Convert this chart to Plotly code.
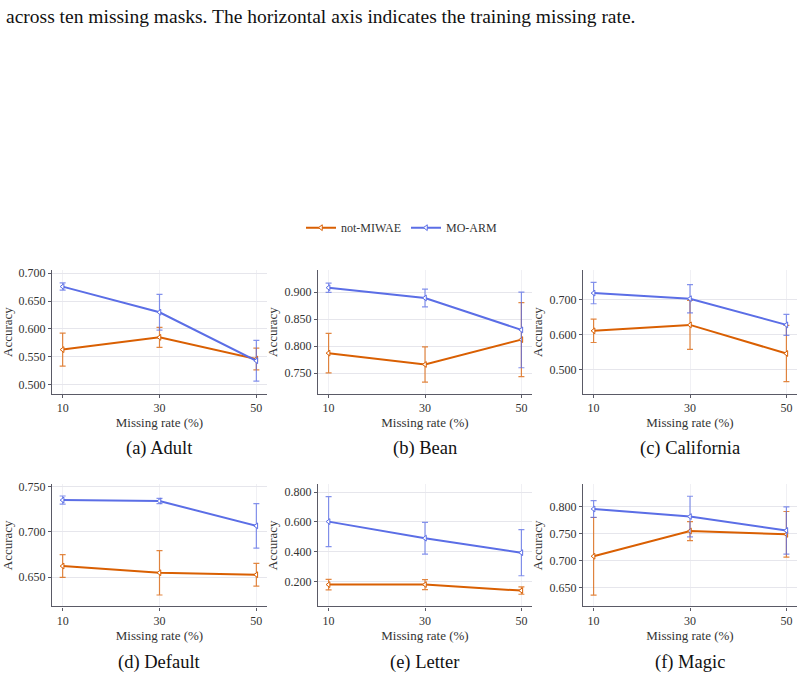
import plotly.graph_objects as go

rates = [10, 30, 50]
datasets = ["(a) Adult", "(b) Bean", "(c) California", "(d) Default", "(e) Letter", "(f) Magic"]

mo_arm = {
    "(a) Adult": [0.676, 0.630, 0.543],
    "(b) Bean": [0.908, 0.889, 0.830],
    "(c) California": [0.719, 0.703, 0.628],
    "(d) Default": [0.735, 0.734, 0.7066],
    "(e) Letter": [0.602, 0.491, 0.394],
    "(f) Magic": [0.7957, 0.7817, 0.756],
}
mo_arm_err = {
    "(a) Adult": [0.0065, 0.032, 0.0365],
    "(b) Bean": [0.0085, 0.0165, 0.070],
    "(c) California": [0.0305, 0.0405, 0.030],
    "(d) Default": [0.0045, 0.0029, 0.0245],
    "(e) Letter": [0.168, 0.1065, 0.1545],
    "(f) Magic": [0.0155, 0.0375, 0.0437],
}
not_miwae = {
    "(a) Adult": [0.563, 0.585, 0.546],
    "(b) Bean": [0.787, 0.766, 0.812],
    "(c) California": [0.611, 0.628, 0.546],
    "(d) Default": [0.6623, 0.6549, 0.6527],
    "(e) Letter": [0.180, 0.180, 0.140],
    "(f) Magic": [0.7085, 0.755, 0.749],
}
not_miwae_err = {
    "(a) Adult": [0.0295, 0.018, 0.0195],
    "(b) Bean": [0.0365, 0.0325, 0.0685],
    "(c) California": [0.0335, 0.070, 0.0805],
    "(d) Default": [0.0125, 0.0245, 0.0125],
    "(e) Letter": [0.035, 0.034, 0.0245],
    "(f) Magic": [0.0715, 0.0175, 0.042],
}
y_ranges = {
    "(a) Adult": [0.484, 0.705],
    "(b) Bean": [0.712, 0.940],
    "(c) California": [0.431, 0.784],
    "(d) Default": [0.6178, 0.7526],
    "(e) Letter": [0.034, 0.853],
    "(f) Magic": [0.616, 0.8415],
}
y_ticks = {
    "(a) Adult": [0.50, 0.55, 0.60, 0.65, 0.70],
    "(b) Bean": [0.75, 0.80, 0.85, 0.90],
    "(c) California": [0.5, 0.6, 0.7],
    "(d) Default": [0.65, 0.70, 0.75],
    "(e) Letter": [0.2, 0.4, 0.6, 0.8],
    "(f) Magic": [0.65, 0.70, 0.75, 0.80],
}
caption = "across ten missing masks. The horizontal axis indicates the training missing rate."

ORANGE = "#d95f02"
BLUE = "#5b6ee6"
FONT = "Liberation Serif"
W, H = 804, 676

col_px = [(52, 267), (318, 532), (583, 797)]
row_px = [(268, 392), (483, 606)]

fig = go.Figure()

series = [
    ("not-MIWAE", not_miwae, not_miwae_err, ORANGE, "rgba(217,95,2,0.75)"),
    ("MO-ARM", mo_arm, mo_arm_err, BLUE, "rgba(91,110,230,0.75)"),
]

for i, ds in enumerate(datasets):
    r, c = divmod(i, 3)
    ax = "" if i == 0 else str(i + 1)
    xd = [col_px[c][0] / W, col_px[c][1] / W]
    yd = [1 - row_px[r][1] / H, 1 - row_px[r][0] / H]
    for name, vals, errs, col, ecol in series:
        fig.add_trace(go.Scatter(
            x=rates, y=vals[ds], name=name, mode="lines+markers",
            line=dict(color=col, width=2),
            marker=dict(symbol="triangle-left", size=5, color="white",
                        line=dict(color=col, width=1)),
            error_y=dict(type="data", array=errs[ds], visible=True,
                         color=ecol, thickness=1.2, width=3),
            xaxis="x" + ax, yaxis="y" + ax,
            showlegend=(i == 0),
        ))
    fig.update_layout(**{
        "xaxis" + ax: dict(
            domain=xd, anchor="y" + ax, range=[7.8, 52.2],
            tickvals=rates, ticktext=[str(v) for v in rates],
            showgrid=True, gridcolor="#f0f0f4", gridwidth=1,
            showline=True, linecolor="#5a5a66", linewidth=1.2,
            ticks="outside", ticklen=3, tickcolor="#5a5a66",
            zeroline=False,
            tickfont=dict(family=FONT, size=12, color="#333"),
            title=dict(text="Missing rate (%)", standoff=3,
                       font=dict(family=FONT, size=13, color="#333")),
        ),
        "yaxis" + ax: dict(
            domain=yd, anchor="x" + ax, range=y_ranges[ds],
            tickvals=y_ticks[ds], tickformat=".3f",
            showgrid=True, gridcolor="#e6e6ec", gridwidth=1,
            showline=True, linecolor="#5a5a66", linewidth=1.2,
            ticks="outside", ticklen=3, tickcolor="#5a5a66",
            zeroline=False,
            tickfont=dict(family=FONT, size=12, color="#333"),
            title=dict(text="Accuracy", standoff=3,
                       font=dict(family=FONT, size=13, color="#333")),
        ),
    })
    fig.add_annotation(
        text=ds, xref="paper", yref="paper",
        x=(xd[0] + xd[1]) / 2, y=1 - (447 if r == 0 else 662) / H,
        showarrow=False, xanchor="center", yanchor="middle",
        font=dict(family=FONT, size=18.5, color="#111"),
    )

fig.add_annotation(
    text=caption,
    xref="paper", yref="paper", x=4 / W, y=1 - 13 / H,
    xanchor="left", yanchor="middle", showarrow=False,
    font=dict(family=FONT, size=19.5, color="#111"),
)

fig.update_layout(
    width=W, height=H,
    margin=dict(l=0, r=0, t=0, b=0),
    paper_bgcolor="white", plot_bgcolor="white",
    legend=dict(orientation="h", x=0.5, xanchor="center",
                y=1 - 225 / H, yanchor="middle",
                font=dict(family=FONT, size=12, color="#333"),
                itemwidth=30, tracegroupgap=0),
    font=dict(family=FONT),
)

fig.write_html("out.html")
